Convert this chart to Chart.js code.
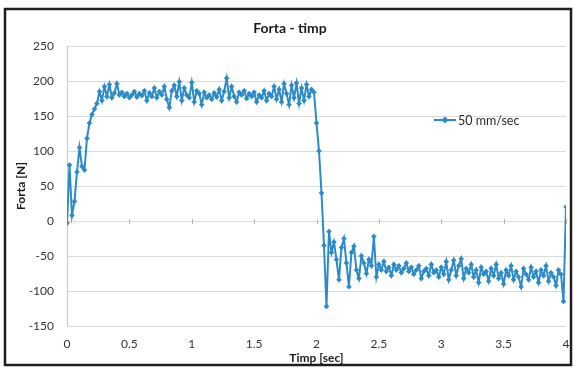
<!DOCTYPE html>
<html>
<head>
<meta charset="utf-8">
<script src="https://cdn.jsdelivr.net/npm/chart.js@4"></script>
<style>
  html, body { margin: 0; padding: 0; background: #fff; }
</style>
</head>
<body>
<canvas id="forceChart" width="574" height="371"></canvas>
<script>
// Forta [N] masurata la fiecare 0.02 s
const sampleStep = 0.02;
const force = [
  -3, 80, 8, 28, 70, 105, 78, 73, 118, 140,          // 0.00 - 0.18
  152, 160, 168, 185, 172, 192, 178, 195, 176, 183,  // 0.20 - 0.38
  196, 180, 184, 178, 182, 176, 180, 185, 177, 182,  // 0.40 - 0.58
  179, 186, 172, 183, 178, 190, 176, 185, 180, 192,  // 0.60 - 0.78
  174, 162, 186, 194, 178, 199, 172, 190, 180, 176,  // 0.80 - 0.98
  198, 170, 186, 182, 166, 184, 176, 180, 174, 183,  // 1.00 - 1.18
  177, 188, 172, 185, 204, 176, 192, 178, 170, 184,  // 1.20 - 1.38
  180, 186, 175, 182, 178, 184, 170, 180, 176, 186,  // 1.40 - 1.58
  172, 182, 178, 192, 174, 188, 170, 196, 182, 166,  // 1.60 - 1.78
  194, 176, 197, 168, 190, 172, 195, 178, 188, 184,  // 1.80 - 1.98
  140, 100, 40, -35, -122, -15, -45, -30, -55, -84,  // 2.00 - 2.18
  -38, -25, -60, -94, -45, -36, -70, -82, -50, -60,  // 2.20 - 2.38
  -75, -55, -64, -22, -80, -62, -70, -58, -72, -66,  // 2.40 - 2.58
  -78, -62, -70, -64, -74, -68, -60, -72, -66, -76,  // 2.60 - 2.78
  -70, -64, -82, -72, -68, -78, -62, -74, -70, -80,  // 2.80 - 2.98
  -66, -76, -58, -84, -70, -56, -78, -64, -54, -82,  // 3.00 - 3.18
  -68, -74, -62, -80, -70, -88, -66, -76, -72, -86,  // 3.20 - 3.38
  -68, -78, -62, -82, -74, -90, -70, -78, -64, -84,  // 3.40 - 3.58
  -72, -80, -94, -68, -76, -84, -66, -80, -72, -88,  // 3.60 - 3.78
  -70, -78, -64, -86, -74, -80, -92, -70, -76, -115, // 3.80 - 3.98
  20                                                 // 4.00
];
const seriesLabel = '50 mm/sec';
const xTicks = [0, 0.5, 1, 1.5, 2, 2.5, 3, 3.5, 4];
const yTicks = [-150, -100, -50, 0, 50, 100, 150, 200, 250];

const blue = '#2b8bc9';
const font = 'Lato, "Open Sans", sans-serif';

const points = force.map((f, i) => ({ x: +(i * sampleStep).toFixed(2), y: f }));

// chenar negru + titlu + legenda (ca in Excel)
const excelLook = {
  id: 'excelLook',
  beforeDraw(chart) {
    const c = chart.ctx;
    c.save();
    c.fillStyle = '#fff';
    c.fillRect(0, 0, chart.width, chart.height);
    c.strokeStyle = '#1e1e1e';
    c.lineWidth = 2.5;
    c.strokeRect(5, 9, 566, 356);
    c.restore();
  },
  beforeDatasetsDraw(chart) {
    // mici gradatii pe axa orizontala (la y = 0)
    const c = chart.ctx, x = chart.scales.x, y0 = chart.scales.y.getPixelForValue(0);
    c.save();
    c.strokeStyle = '#b5b5b5';
    c.lineWidth = 1;
    xTicks.forEach(v => {
      const px = Math.round(x.getPixelForValue(v)) + 0.5;
      c.beginPath(); c.moveTo(px, y0 - 2); c.lineTo(px, y0 + 3); c.stroke();
    });
    c.restore();
  },
  afterDraw(chart) {
    const c = chart.ctx;
    c.save();
    c.fillStyle = '#1a1a1a';
    c.font = 'bold 14px ' + font;
    c.textAlign = 'center';
    c.textBaseline = 'middle';
    c.fillText('Forta - timp', 290, 28);

    // legenda
    const ly = 120;
    c.strokeStyle = blue;
    c.lineWidth = 2;
    c.beginPath(); c.moveTo(434, ly); c.lineTo(456, ly); c.stroke();
    c.fillStyle = blue;
    c.beginPath();
    c.moveTo(445, ly - 3.5); c.lineTo(448.5, ly); c.lineTo(445, ly + 3.5); c.lineTo(441.5, ly);
    c.closePath(); c.fill();
    c.fillStyle = '#2a2a2a';
    c.font = '12.5px ' + font;
    c.textAlign = 'left';
    c.fillText(seriesLabel, 458, ly + 1);
    c.restore();
  }
};

new Chart(document.getElementById('forceChart'), {
  type: 'line',
  data: {
    datasets: [{
      label: seriesLabel,
      data: points,
      borderColor: blue,
      backgroundColor: blue,
      borderWidth: 2,
      pointStyle: 'rectRot',
      pointRadius: 2.8,
      pointBorderWidth: 0,
      tension: 0
    }]
  },
  options: {
    responsive: false,
    animation: false,
    layout: { padding: { left: 10, right: 8, top: 46, bottom: 0 } },
    plugins: {
      legend: { display: false },
      title: { display: false },
      tooltip: { enabled: false }
    },
    scales: {
      x: {
        type: 'linear',
        min: 0,
        max: 4,
        afterBuildTicks: s => { s.ticks = xTicks.map(v => ({ value: v })); },
        afterFit: s => { s.height = 45; s.paddingLeft = 0; s.paddingRight = 0; },
        grid: { display: false, drawTicks: false },
        border: { display: false },
        ticks: {
          padding: 11,
          color: '#333',
          font: { family: font, size: 12 },
          maxRotation: 0,
          callback: v => String(v)
        },
        title: {
          display: true,
          text: 'Timp [sec]',
          color: '#1a1a1a',
          font: { family: font, size: 12, weight: 'bold' },
          padding: { top: 0, bottom: 6 }
        }
      },
      y: {
        min: -150,
        max: 250,
        afterBuildTicks: s => { s.ticks = yTicks.map(v => ({ value: v })); },
        afterFit: s => { s.width = 57; },
        grid: { color: '#dadada', drawTicks: false },
        border: { display: true, color: '#c9c9c9' },
        ticks: {
          padding: 13,
          color: '#333',
          font: { family: font, size: 12 },
          callback: v => String(v)
        },
        title: {
          display: true,
          text: 'Forta [N]',
          color: '#1a1a1a',
          font: { family: font, size: 12, weight: 'bold' },
          padding: { top: 4, bottom: 4 }
        }
      }
    }
  },
  plugins: [excelLook]
});
</script>
</body>
</html>
